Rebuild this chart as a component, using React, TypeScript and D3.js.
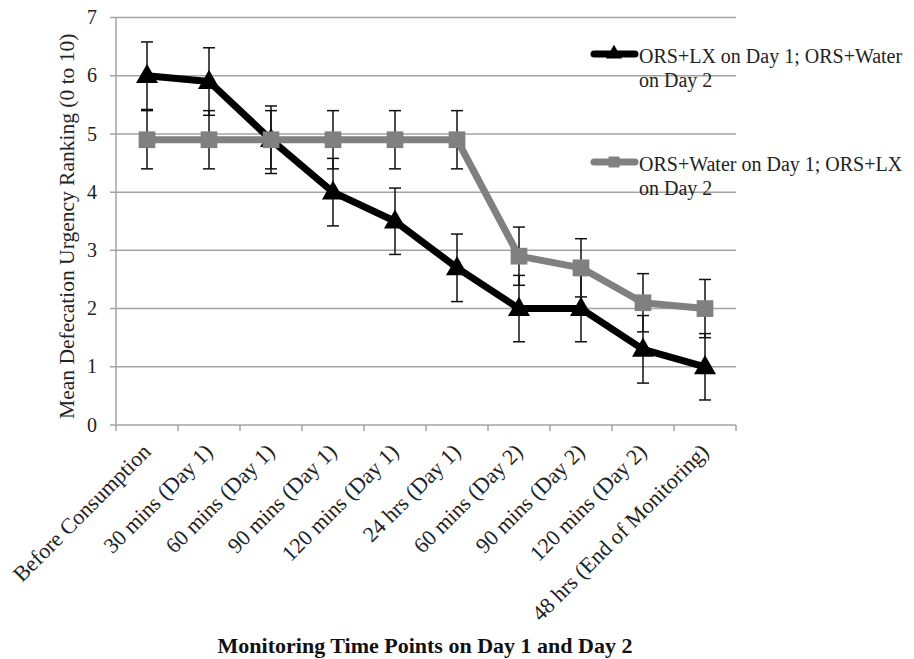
import * as d3 from "d3";
import { useEffect, useRef } from "react";

// time points on the x axis
const timePoints = [
  "Before Consumption",
  "30 mins (Day 1)",
  "60 mins (Day 1)",
  "90 mins (Day 1)",
  "120 mins (Day 1)",
  "24 hrs (Day 1)",
  "60 mins (Day 2)",
  "90 mins (Day 2)",
  "120 mins (Day 2)",
  "48 hrs (End of Monitoring)",
];

// ORS+LX on Day 1; ORS+Water on Day 2
const lxFirst = [6.0, 5.9, 4.9, 4.0, 3.5, 2.7, 2.0, 2.0, 1.3, 1.0];
const lxFirstErr = [0.58, 0.58, 0.58, 0.58, 0.57, 0.58, 0.57, 0.57, 0.58, 0.57];

// ORS+Water on Day 1; ORS+LX on Day 2
const waterFirst = [4.9, 4.9, 4.9, 4.9, 4.9, 4.9, 2.9, 2.7, 2.1, 2.0];
const waterFirstErr = [0.5, 0.5, 0.5, 0.5, 0.5, 0.5, 0.5, 0.5, 0.5, 0.5];

const yTicks = [0, 1, 2, 3, 4, 5, 6, 7];

const seriesNames = [
  ["ORS+LX on Day 1; ORS+Water", "on Day 2"],
  ["ORS+Water on Day 1; ORS+LX", "on Day 2"],
];

const W = 914;
const H = 659;
const FONT = "'Liberation Serif', serif";

const App = () => {
  const ref = useRef<SVGSVGElement | null>(null);

  useEffect(() => {
    const svg = d3.select(ref.current);
    svg.selectAll("*").remove();

    const margin = { top: 17.5, left: 116, right: 178, bottom: 234 };
    const plotW = W - margin.left - margin.right;
    const plotH = H - margin.top - margin.bottom;

    const x = d3.scaleBand().domain(timePoints).range([0, plotW]);
    const y = d3.scaleLinear().domain([0, 7]).range([plotH, 0]);

    const g = svg.append("g").attr("transform", `translate(${margin.left},${margin.top})`);

    // horizontal grid
    g.selectAll(".grid")
      .data(yTicks)
      .enter()
      .append("line")
      .attr("x1", -6)
      .attr("x2", plotW)
      .attr("y1", (d) => y(d))
      .attr("y2", (d) => y(d))
      .attr("stroke", "#a3a3a3")
      .attr("stroke-width", 1.5);

    // y axis line
    g.append("line")
      .attr("x1", 0).attr("x2", 0)
      .attr("y1", 0).attr("y2", plotH)
      .attr("stroke", "#a3a3a3").attr("stroke-width", 1.5);

    // x tick marks at category boundaries
    const bounds = timePoints.map((t) => x(t) as number).concat([plotW]);
    g.selectAll(".xtick")
      .data(bounds)
      .enter()
      .append("line")
      .attr("x1", (d) => d).attr("x2", (d) => d)
      .attr("y1", plotH).attr("y2", plotH + 6)
      .attr("stroke", "#a3a3a3").attr("stroke-width", 1.5);

    // y tick labels
    g.selectAll(".ylab")
      .data(yTicks)
      .enter()
      .append("text")
      .attr("x", -19)
      .attr("y", (d) => y(d))
      .attr("dy", "0.33em")
      .attr("text-anchor", "end")
      .attr("font-family", FONT)
      .attr("font-size", 20)
      .attr("fill", "#222")
      .text((d) => d);

    // x tick labels, rotated
    g.selectAll(".xlab")
      .data(timePoints)
      .enter()
      .append("text")
      .attr("transform", (d) => `translate(${(x(d) as number) + x.bandwidth() / 2 + 5},${plotH + 28}) rotate(-45)`)
      .attr("text-anchor", "end")
      .attr("font-family", FONT)
      .attr("font-size", 22)
      .attr("fill", "#222")
      .text((d) => d);

    const cx = (i: number) => (x(timePoints[i]) as number) + x.bandwidth() / 2;
    const line = d3.line<number>().x((_, i) => cx(i)).y((d) => y(d));

    const drawSeries = (vals: number[], errs: number[], color: string, marker: "tri" | "sq") => {
      g.append("path")
        .datum(vals)
        .attr("d", line)
        .attr("fill", "none")
        .attr("stroke", color)
        .attr("stroke-width", 7)
        .attr("stroke-linejoin", "round");

      const eb = g.append("g");
      vals.forEach((v, i) => {
        const lo = y(v - errs[i]);
        const hi = y(v + errs[i]);
        eb.append("line").attr("x1", cx(i)).attr("x2", cx(i)).attr("y1", lo).attr("y2", hi)
          .attr("stroke", "#111").attr("stroke-width", 1.5);
        [lo, hi].forEach((yy) => {
          eb.append("line").attr("x1", cx(i) - 6).attr("x2", cx(i) + 6).attr("y1", yy).attr("y2", yy)
            .attr("stroke", "#111").attr("stroke-width", 1.5);
        });
      });

      const sym = marker === "tri" ? d3.symbolTriangle : d3.symbolSquare;
      const size = marker === "tri" ? 210 : 280;
      g.selectAll(`.m-${marker}`)
        .data(vals)
        .enter()
        .append("path")
        .attr("d", d3.symbol().type(sym).size(size)())
        .attr("transform", (d, i) => `translate(${cx(i)},${y(d) + (marker === "tri" ? 1 : 0)})`)
        .attr("fill", color);
    };

    drawSeries(lxFirst, lxFirstErr, "#000", "tri");
    drawSeries(waterFirst, waterFirstErr, "#808080", "sq");

    // legend
    const legend = svg.append("g");
    const legendItems = [
      { color: "#000", marker: d3.symbolTriangle, size: 110, y: 54 },
      { color: "#808080", marker: d3.symbolSquare, size: 120, y: 162 },
    ];
    legendItems.forEach((it, k) => {
      legend.append("line")
        .attr("x1", 594).attr("x2", 635).attr("y1", it.y).attr("y2", it.y)
        .attr("stroke", it.color).attr("stroke-width", 7).attr("stroke-linecap", "round");
      legend.append("path")
        .attr("d", d3.symbol().type(it.marker).size(it.size)())
        .attr("transform", `translate(614,${it.y})`)
        .attr("fill", it.color);
      const t = legend.append("text")
        .attr("x", 639).attr("y", it.y + 9)
        .attr("font-family", FONT)
        .attr("font-size", 20)
        .attr("fill", "#222");
      seriesNames[k].forEach((s, j) => {
        t.append("tspan").attr("x", 639).attr("dy", j === 0 ? 0 : 24).text(s);
      });
    });

    // axis titles
    svg.append("text")
      .attr("transform", `translate(74,${margin.top + plotH / 2 + 5}) rotate(-90)`)
      .attr("text-anchor", "middle")
      .attr("font-family", FONT)
      .attr("font-size", 21.5)
      .attr("fill", "#222")
      .text("Mean Defecation Urgency Ranking (0 to 10)");

    svg.append("text")
      .attr("x", 425)
      .attr("y", 653)
      .attr("text-anchor", "middle")
      .attr("font-family", FONT)
      .attr("font-size", 22)
      .attr("font-weight", "bold")
      .attr("fill", "#111")
      .text("Monitoring Time Points on Day 1 and Day 2");
  }, []);

  return (
    <svg
      ref={ref}
      width={W}
      height={H}
      style={{ position: "absolute", left: 0, top: 0, background: "#fff" }}
    />
  );
};

export default App;
